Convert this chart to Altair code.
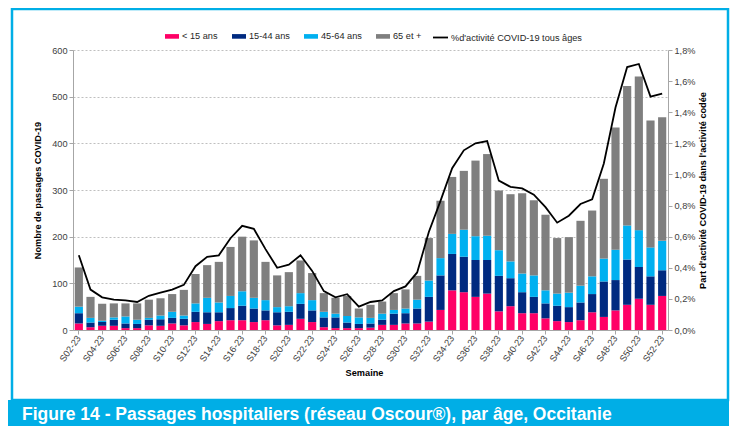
import altair as alt
import pandas as pd

weeks = ["S02-23", "S03-23", "S04-23", "S05-23", "S06-23", "S07-23", "S08-23", "S09-23", "S10-23", "S11-23",
         "S12-23", "S13-23", "S14-23", "S15-23", "S16-23", "S17-23", "S18-23", "S19-23", "S20-23", "S21-23",
         "S22-23", "S23-23", "S24-23", "S25-23", "S26-23", "S27-23", "S28-23", "S29-23", "S30-23", "S31-23",
         "S32-23", "S33-23", "S34-23", "S35-23", "S36-23", "S37-23", "S38-23", "S39-23", "S40-23", "S41-23",
         "S42-23", "S43-23", "S44-23", "S45-23", "S46-23", "S47-23", "S48-23", "S49-23", "S50-23", "S51-23",
         "S52-23"]

lt15 = [14, 6, 9, 9, 4, 4, 10, 9, 14, 10,
        17, 13, 19, 21, 21, 17, 21, 10, 11, 24,
        17, 6, 4, 4, 4, 5, 11, 11, 14, 14,
        18, 43, 85, 81, 71, 78, 40, 51, 36, 36,
        25, 19, 17, 21, 38, 28, 42, 54, 67, 54,
        73]
a15_44 = [22, 10, 8, 13, 10, 9, 12, 14, 12, 14,
          22, 25, 19, 26, 31, 29, 21, 28, 28, 32,
          25, 21, 23, 12, 9, 9, 11, 24, 22, 32,
          53, 74, 78, 76, 79, 72, 76, 60, 45, 35,
          32, 33, 32, 38, 39, 76, 65, 97, 68, 61,
          55]
a45_64 = [14, 10, 3, 5, 15, 9, 4, 8, 13, 7,
          18, 31, 21, 26, 31, 23, 22, 11, 12, 23,
          22, 12, 8, 14, 14, 12, 13, 8, 10, 19,
          35, 37, 43, 58, 51, 52, 55, 36, 40, 46,
          28, 26, 31, 36, 38, 49, 65, 73, 79, 62,
          63]
a65 = [84, 45, 36, 30, 28, 35, 39, 37, 38, 55,
       63, 70, 87, 105, 117, 123, 82, 68, 73, 70,
       58, 40, 34, 43, 19, 28, 26, 36, 41, 51,
       91, 123, 122, 126, 162, 175, 128, 144, 172, 161,
       162, 119, 119, 139, 141, 171, 262, 299, 329, 272,
       265]
pct_covid = [0.48, 0.26, 0.21, 0.195, 0.19, 0.18, 0.22, 0.24, 0.26, 0.29,
             0.41, 0.47, 0.48, 0.59, 0.67, 0.65, 0.52, 0.40, 0.42, 0.48,
             0.38, 0.25, 0.21, 0.23, 0.15, 0.18, 0.19, 0.25, 0.28, 0.37,
             0.63, 0.83, 1.04, 1.155, 1.20, 1.215, 0.96, 0.92, 0.91, 0.87,
             0.79, 0.69, 0.735, 0.81, 0.84, 1.07, 1.43, 1.69, 1.71, 1.50,
             1.52]

groups = ["< 15 ans", "15-44 ans", "45-64 ans", "65 et +"]
colors = ["#FF0066", "#002A80", "#00B0F0", "#7F7F7F"]
line_label = "%d'activité COVID-19 tous âges"
left_ticks = [0, 100, 200, 300, 400, 500, 600]
right_ticks = [0.0, 0.002, 0.004, 0.006, 0.008, 0.010, 0.012, 0.014, 0.016, 0.018]
banner_title = "Figure 14 - Passages hospitaliers (réseau Oscour®), par âge, Occitanie"

rows = []
for gi, (g, vals) in enumerate(zip(groups, [lt15, a15_44, a45_64, a65])):
    for w, v in zip(weeks, vals):
        rows.append({"semaine": w, "groupe": g, "n": v, "ordre": gi})
bars_df = pd.DataFrame(rows)
line_df = pd.DataFrame({"semaine": weeks, "pct": [p / 100 for p in pct_covid], "serie": line_label})
deco_df = pd.DataFrame({"k": [0]})

FONT = "Liberation Sans"
FS = 9.2
CYAN = "#00AEE6"
AXIS_GRAY = "#A6A6A6"
LABEL = "#404040"

W, H = 595, 280

x_axis = alt.Axis(values=weeks[::2], labelAngle=-55, title="Semaine", labelFont=FONT, labelFontSize=FS,
                  labelColor=LABEL, domainColor=AXIS_GRAY, tickColor=AXIS_GRAY, tickSize=4, labelPadding=2,
                  titleFont=FONT, titleFontSize=FS, titleFontWeight="bold", titleColor="black",
                  titleX=291, titleY=42, titleBaseline="middle")

bars = alt.Chart(bars_df).mark_bar().encode(
    x=alt.X("semaine:N", sort=weeks, scale=alt.Scale(paddingInner=0.3, paddingOuter=0.15), axis=x_axis),
    y=alt.Y("n:Q", stack="zero", scale=alt.Scale(domain=[0, 600], nice=False),
            axis=alt.Axis(values=left_ticks, title="Nombre de passages COVID-19", grid=True,
                          gridDash=[2, 2], gridColor="#BFBFBF", domainColor=AXIS_GRAY, tickColor=AXIS_GRAY,
                          tickSize=4, labelFont=FONT, labelFontSize=FS, labelColor=LABEL, labelPadding=2,
                          titleFont=FONT, titleFontSize=FS, titleFontWeight="bold", titleColor="black",
                          titlePadding=9)),
    color=alt.Color("groupe:N", scale=alt.Scale(domain=groups, range=colors),
                    legend=alt.Legend(title=None, orient="none", legendX=92, legendY=-21,
                                      direction="horizontal", columns=4,
                                      symbolType="M-1,-0.33H1V0.33H-1Z", symbolSize=196,
                                      symbolStrokeWidth=0, labelFont=FONT, labelFontSize=FS,
                                      labelColor="#262626", columnPadding=14, labelOffset=3)),
    order=alt.Order("ordre:Q"),
)

line = alt.Chart(line_df).mark_line(strokeWidth=1.8).encode(
    x=alt.X("semaine:N", sort=weeks),
    y=alt.Y("pct:Q", scale=alt.Scale(domain=[0, 0.018], nice=False),
            axis=alt.Axis(orient="right", values=right_ticks, grid=False,
                          labelExpr="replace(format(datum.value, '.1%'), '.', ',')",
                          title="Part d'activité COVID-19 dans l'activité codée",
                          titleAngle=270, titleBaseline="top", domainColor=AXIS_GRAY,
                          tickColor=AXIS_GRAY, tickSize=4, labelFont=FONT, labelFontSize=FS,
                          labelColor=LABEL, labelPadding=2, titleFont=FONT, titleFontSize=FS,
                          titleFontWeight="bold", titleColor="black", titlePadding=4)),
    stroke=alt.Stroke("serie:N", scale=alt.Scale(domain=[line_label], range=["black"]),
                      legend=alt.Legend(title=None, orient="none", legendX=359, legendY=-21,
                                        symbolType="stroke", symbolSize=225, symbolStrokeWidth=1.8,
                                        labelFont=FONT, labelFontSize=FS, labelColor="#262626",
                                        labelOffset=2)),
)

frame = alt.Chart(deco_df).mark_rect(fillOpacity=0, stroke=CYAN, strokeWidth=2.5).encode(
    x=alt.value(-61), x2=alt.value(655), y=alt.value(-41), y2=alt.value(350)
)
banner = alt.Chart(deco_df).mark_rect(fill=CYAN).encode(
    x=alt.value(-66), x2=alt.value(656), y=alt.value(350), y2=alt.value(380)
)
banner_text = alt.Chart(deco_df).mark_text(
    text=banner_title, align="left", baseline="alphabetic", font=FONT, fontSize=17.5,
    fontWeight="bold", color="white"
).encode(x=alt.value(-51), y=alt.value(370))

chart = alt.layer(frame, banner, bars, line, banner_text).resolve_scale(y="independent").properties(
    width=W, height=H,
    autosize=alt.AutoSizeParams(type="none"),
    padding={"left": 65, "top": 42, "right": 62, "bottom": 96},
).configure(background="white").configure_view(stroke=None)

chart.save("out.html", embed_options={"renderer": "svg", "actions": False})
